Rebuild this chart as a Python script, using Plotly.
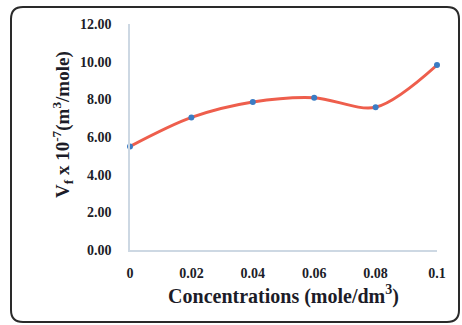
import plotly.graph_objects as go

# Data
concentrations = [0, 0.02, 0.04, 0.06, 0.08, 0.1]
vf_values = [5.50, 7.04, 7.86, 8.09, 7.58, 9.82]
y_tick_vals = [0, 2, 4, 6, 8, 10, 12]
y_tick_text = ["0.00", "2.00", "4.00", "6.00", "8.00", "10.00", "12.00"]
x_tick_vals = [0, 0.02, 0.04, 0.06, 0.08, 0.1]
x_tick_text = ["0", "0.02", "0.04", "0.06", "0.08", "0.1"]
y_title = "V<sub>f</sub> x 10<sup>-7</sup>(m<sup>3</sup>/mole)"
x_title = "Concentrations (mole/dm<sup>3</sup>)"

W, H = 462, 325
ML, MR, MT, MB = 130, 25, 24, 75
pw, ph = W - ML - MR, H - MT - MB

def px2paper(px, py):
    return (px - ML) / pw, (H - MB - py) / ph

fig = go.Figure()
fig.add_trace(go.Scatter(
    x=concentrations, y=vf_values, mode="lines+markers",
    line=dict(color="#ee5e4c", width=3, shape="spline", smoothing=0.9),
    marker=dict(color="#3b7cc4", size=6),
    showlegend=False, cliponaxis=False,
))

font_family = "Liberation Serif, Times New Roman, serif"
fig.update_layout(
    width=W, height=H,
    margin=dict(l=ML, r=MR, t=MT, b=MB),
    paper_bgcolor="white", plot_bgcolor="white",
    font=dict(family=font_family, color="#1c1c28"),
    xaxis=dict(range=[0, 0.1], tickvals=x_tick_vals, ticktext=x_tick_text,
               showgrid=False, zeroline=False, showline=True,
               linecolor="#cdd8e3", linewidth=1.5, ticks="",
               ticklabelstandoff=9,
               tickfont=dict(size=14, family=font_family, weight="bold"),
               title=dict(text=x_title,
                          font=dict(size=20, family=font_family, weight="bold"),
                          standoff=9)),
    yaxis=dict(range=[0, 12], tickvals=y_tick_vals, ticktext=y_tick_text,
               showgrid=False, zeroline=False, showline=True,
               linecolor="#cdd8e3", linewidth=1.5, ticks="",
               ticklabelstandoff=14,
               tickfont=dict(size=14, family=font_family, weight="bold")),
)

# y-axis title as annotation (shifted slightly above plot centre as in reference)
tx, ty = px2paper(62, 125)
fig.add_annotation(text=y_title, x=tx, y=ty, xref="paper", yref="paper",
                   showarrow=False, textangle=-90, xanchor="center", yanchor="middle",
                   font=dict(size=19, family=font_family, weight="bold", color="#1c1c28"))

# Rounded border box
x0, y0 = px2paper(11, 322)
x1, y1 = px2paper(459, 7)
rx, ry = 12 / pw, 12 / ph
path = (f"M {x0+rx},{y0} L {x1-rx},{y0} Q {x1},{y0} {x1},{y0+ry} "
        f"L {x1},{y1-ry} Q {x1},{y1} {x1-rx},{y1} L {x0+rx},{y1} "
        f"Q {x0},{y1} {x0},{y1-ry} L {x0},{y0+ry} Q {x0},{y0} {x0+rx},{y0} Z")
fig.add_shape(type="path", path=path, xref="paper", yref="paper",
              line=dict(color="#2a2a2a", width=2), layer="below")

fig.write_html("out.html", config={"displayModeBar": False},
               post_script="document.body.style.margin='0';document.body.style.padding='0';")
